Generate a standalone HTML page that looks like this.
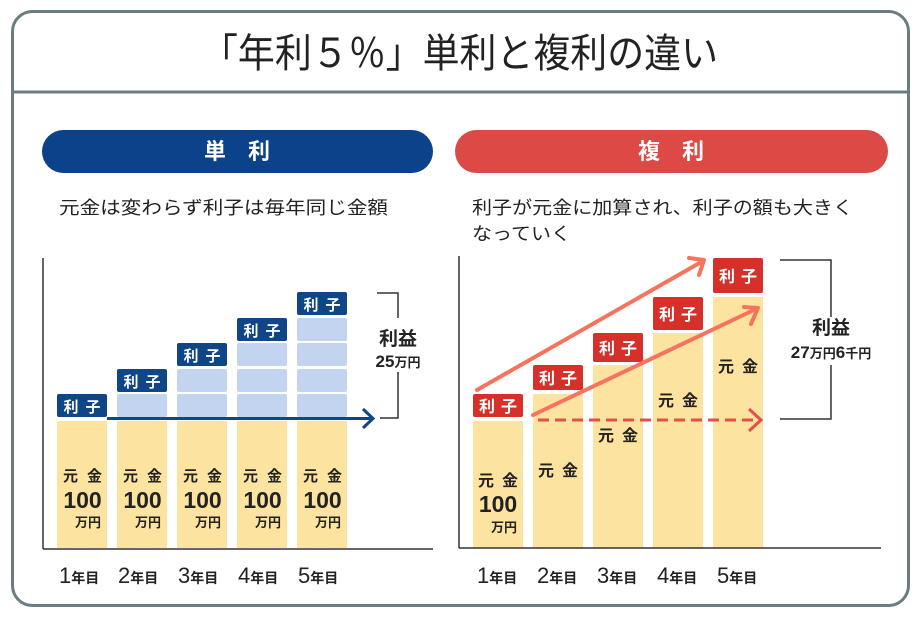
<!DOCTYPE html>
<html><head><meta charset="utf-8"><style>
html,body{margin:0;padding:0;background:#fff;}
svg{display:block;}
text{font-family:"Liberation Sans","Noto Sans CJK JP",sans-serif;}
</style></head><body>
<svg width="924" height="625" viewBox="0 0 924 625" xmlns="http://www.w3.org/2000/svg">
<rect x="0" y="0" width="924" height="625" fill="#fff"/>
<!-- outer frame -->
<rect x="12.5" y="11.5" width="896" height="594" rx="20" ry="20" fill="#fff" stroke="#6b7d80" stroke-width="3"/>
<line x1="12" y1="92" x2="910" y2="92" stroke="#6b7d80" stroke-width="3"/>
<text x="201" y="67" font-size="40" fill="#222" textLength="517" lengthAdjust="spacingAndGlyphs">「年利５％」単利と複利の違い</text>

<!-- pills -->
<rect x="42" y="130" width="391" height="43" rx="21.5" fill="#0b428a"/>
<text x="237" y="159" font-size="22" font-weight="bold" fill="#fff" text-anchor="middle">単　利</text>
<rect x="455" y="130" width="433" height="43" rx="21.5" fill="#dd4a45"/>
<text x="671" y="159" font-size="22" font-weight="bold" fill="#fff" text-anchor="middle">複　利</text>

<!-- captions -->
<text x="59" y="214" font-size="18" fill="#222" textLength="329" lengthAdjust="spacingAndGlyphs">元金は変わらず利子は毎年同じ金額</text>
<text x="472" y="214" font-size="18" fill="#222" textLength="381" lengthAdjust="spacingAndGlyphs">利子が元金に加算され、利子の額も大きく</text>
<text x="472" y="240" font-size="18" fill="#222" textLength="99" lengthAdjust="spacingAndGlyphs">なっていく</text>

<!-- ================= LEFT CHART ================= -->
<g>
<rect x="57" y="421" width="50" height="127" fill="#fde3a0"/>
<rect x="117" y="421" width="50" height="127" fill="#fde3a0"/>
<rect x="177" y="421" width="50" height="127" fill="#fde3a0"/>
<rect x="237" y="421" width="50" height="127" fill="#fde3a0"/>
<rect x="297" y="421" width="50" height="127" fill="#fde3a0"/>
<g fill="#c3d4f0">
<rect x="117" y="394" width="50" height="23" rx="2"/>
<rect x="177" y="394" width="50" height="23" rx="2"/>
<rect x="177" y="369" width="50" height="23" rx="2"/>
<rect x="237" y="394" width="50" height="23" rx="2"/>
<rect x="237" y="369" width="50" height="23" rx="2"/>
<rect x="237" y="343" width="50" height="23" rx="2"/>
<rect x="297" y="394" width="50" height="23" rx="2"/>
<rect x="297" y="369" width="50" height="23" rx="2"/>
<rect x="297" y="343" width="50" height="23" rx="2"/>
<rect x="297" y="318" width="50" height="23" rx="2"/>
</g>
<g fill="#0f4687">
<rect x="57" y="394" width="50" height="23" rx="2"/>
<rect x="117" y="369" width="50" height="23" rx="2"/>
<rect x="177" y="343" width="50" height="23" rx="2"/>
<rect x="237" y="318" width="50" height="23" rx="2"/>
<rect x="297" y="292" width="50" height="23" rx="2"/>
</g>
<g fill="#fff" font-size="15" font-weight="bold" text-anchor="middle">
<text x="71" y="412">利</text><text x="93" y="412">子</text>
<text x="131" y="387">利</text><text x="153" y="387">子</text>
<text x="191" y="361">利</text><text x="213" y="361">子</text>
<text x="251" y="336">利</text><text x="273" y="336">子</text>
<text x="311" y="310">利</text><text x="333" y="310">子</text>
</g>
<line x1="107" y1="418.5" x2="372" y2="418.5" stroke="#0f4687" stroke-width="3"/>
<polyline points="363,409 373,418.5 363,428" fill="none" stroke="#0f4687" stroke-width="3"/>
<g fill="#222" font-weight="bold">
<g font-size="15" text-anchor="middle">
<text x="70.5" y="481">元</text><text x="94.5" y="481">金</text>
<text x="130.5" y="481">元</text><text x="154.5" y="481">金</text>
<text x="190.5" y="481">元</text><text x="214.5" y="481">金</text>
<text x="250.5" y="481">元</text><text x="274.5" y="481">金</text>
<text x="310.5" y="481">元</text><text x="334.5" y="481">金</text>
</g>
<g font-size="23" text-anchor="middle">
<text x="82.5" y="508">100</text>
<text x="142.5" y="508">100</text>
<text x="202.5" y="508">100</text>
<text x="262.5" y="508">100</text>
<text x="322.5" y="508">100</text>
</g>
<g font-size="13" text-anchor="end">
<text x="101" y="527">万円</text>
<text x="161" y="527">万円</text>
<text x="221" y="527">万円</text>
<text x="281" y="527">万円</text>
<text x="341" y="527">万円</text>
</g>
</g>
<line x1="43" y1="258" x2="43" y2="549" stroke="#333" stroke-width="1.5"/>
<line x1="43" y1="549" x2="433" y2="549" stroke="#333" stroke-width="1.5"/>
<path d="M377,293 H398 V318 M398,372 V418 H380" fill="none" stroke="#333" stroke-width="1.5"/>
<text x="398" y="345" font-size="19" font-weight="bold" fill="#222" text-anchor="middle">利益</text>
<text x="398" y="367" fill="#222" font-weight="bold" text-anchor="middle"><tspan font-size="17">25</tspan><tspan font-size="13">万円</tspan></text>
<g fill="#222">
<text x="59" y="583"><tspan font-size="22">1</tspan><tspan font-size="14" font-weight="bold">年目</tspan></text>
<text x="118" y="583"><tspan font-size="22">2</tspan><tspan font-size="14" font-weight="bold">年目</tspan></text>
<text x="178" y="583"><tspan font-size="22">3</tspan><tspan font-size="14" font-weight="bold">年目</tspan></text>
<text x="238" y="583"><tspan font-size="22">4</tspan><tspan font-size="14" font-weight="bold">年目</tspan></text>
<text x="298" y="583"><tspan font-size="22">5</tspan><tspan font-size="14" font-weight="bold">年目</tspan></text>
</g>
</g>

<!-- ================= RIGHT CHART ================= -->
<g>
<g fill="#fde3a0">
<rect x="473" y="421" width="50" height="127"/>
<rect x="533" y="394" width="50" height="154"/>
<rect x="593" y="365" width="50" height="183"/>
<rect x="653" y="333" width="50" height="215"/>
<rect x="713" y="297" width="50" height="251"/>
</g>
<g fill="#d6302b">
<rect x="473" y="394" width="50" height="23" rx="2"/>
<rect x="533" y="365" width="50" height="25" rx="2"/>
<rect x="593" y="333" width="50" height="29" rx="2"/>
<rect x="653" y="297" width="50" height="33" rx="2"/>
<rect x="713" y="258" width="50" height="35" rx="2"/>
</g>
<g fill="#fff" font-size="16" font-weight="bold" text-anchor="middle">
<text x="487" y="412">利</text><text x="509" y="412">子</text>
<text x="547" y="384">利</text><text x="569" y="384">子</text>
<text x="607" y="354">利</text><text x="629" y="354">子</text>
<text x="667" y="320">利</text><text x="689" y="320">子</text>
<text x="727" y="282">利</text><text x="749" y="282">子</text>
</g>
<g fill="#222" font-weight="bold">
<g font-size="16" text-anchor="middle">
<text x="486" y="486">元</text><text x="510" y="486">金</text>
<text x="546" y="476">元</text><text x="570" y="476">金</text>
<text x="606" y="441">元</text><text x="630" y="441">金</text>
<text x="666" y="406">元</text><text x="690" y="406">金</text>
<text x="726" y="372">元</text><text x="750" y="372">金</text>
</g>
<text x="498" y="512" font-size="23" text-anchor="middle">100</text>
<text x="517" y="532" font-size="13" text-anchor="end">万円</text>
</g>
<g stroke="#f7735d" stroke-width="4" fill="none" stroke-linecap="round" stroke-linejoin="round">
<line x1="477" y1="390" x2="703" y2="261"/>
<polyline points="689,258 704,260 699,275"/>
<line x1="533" y1="415" x2="756" y2="309"/>
<polyline points="744,307 758,308 751,324"/>
</g>
<line x1="538" y1="420" x2="758" y2="420" stroke="#e2504a" stroke-width="3" stroke-dasharray="11,6"/>
<polyline points="749,409 761,420 749,431" fill="none" stroke="#e2504a" stroke-width="3"/>
<line x1="459" y1="256" x2="459" y2="548" stroke="#333" stroke-width="1.5"/>
<line x1="459" y1="548" x2="881" y2="548" stroke="#333" stroke-width="1.5"/>
<path d="M780,260 H831 V317 M831,365 V419 H780" fill="none" stroke="#333" stroke-width="1.5"/>
<text x="831" y="334" font-size="19" font-weight="bold" fill="#222" text-anchor="middle">利益</text>
<text x="831" y="358" fill="#222" font-weight="bold" text-anchor="middle"><tspan font-size="17">27</tspan><tspan font-size="13">万円</tspan><tspan font-size="17">6</tspan><tspan font-size="13">千円</tspan></text>
<g fill="#222">
<text x="477" y="583"><tspan font-size="22">1</tspan><tspan font-size="14" font-weight="bold">年目</tspan></text>
<text x="537" y="583"><tspan font-size="22">2</tspan><tspan font-size="14" font-weight="bold">年目</tspan></text>
<text x="597" y="583"><tspan font-size="22">3</tspan><tspan font-size="14" font-weight="bold">年目</tspan></text>
<text x="657" y="583"><tspan font-size="22">4</tspan><tspan font-size="14" font-weight="bold">年目</tspan></text>
<text x="717" y="583"><tspan font-size="22">5</tspan><tspan font-size="14" font-weight="bold">年目</tspan></text>
</g>
</g>
</svg>
</body></html>
